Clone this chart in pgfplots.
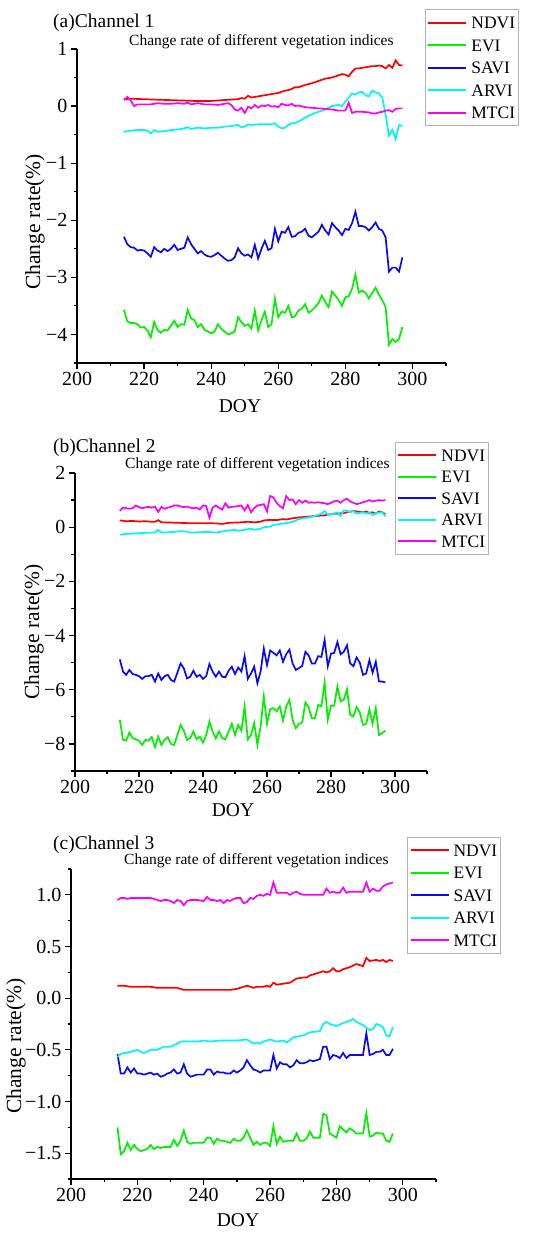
\documentclass[border=0pt]{standalone}
\usepackage{fontspec}
\setmainfont{Liberation Serif}
\usepackage{pgfplots}
\pgfplotsset{compat=1.18}
\definecolor{cred}{RGB}{255,0,0}
\definecolor{cgreen}{RGB}{0,240,0}
\definecolor{cblue}{RGB}{10,10,240}
\definecolor{ccyan}{RGB}{0,245,245}
\definecolor{cmag}{RGB}{250,0,250}
\pgfplotsset{
  panel/.style={
    scale only axis,
    axis x line*=bottom, axis y line*=left,
    axis line style={line width=1.3pt},
    xmin=200, xmax=310,
    xtick={200,220,...,300},
    xticklabels={200,220,240,260,280,300},
    minor xtick={210,230,...,310},
    tick align=outside,
    major tick length=6pt, minor tick length=3.5pt,
    every tick/.style={black, line width=1.2pt},
    tick label style={font=\fontsize{20}{22}\selectfont},
    every axis plot/.append style={line width=1.7pt},
    legend style={draw=gray!60, line width=0.8pt, fill=white,
      font=\fontsize{17.5}{19}\selectfont, anchor=north west,
      cells={anchor=west}, inner xsep=2pt, inner ysep=4pt,
      row sep=4.5pt, column sep=3pt,
      nodes={inner xsep=1pt, inner ysep=3pt, text height=12pt, text depth=0pt}},
    legend image code/.code={\draw[#1, line width=2pt] (0pt,0pt) -- (38pt,0pt);},
  }
}
\begin{document}
\begin{tikzpicture}[x=1pt,y=1pt]
\useasboundingbox (0,0) rectangle (550,1233);
% ---------------- panel a ----------------
\begin{axis}[panel, at={(77pt,870pt)}, anchor=south west, width=369pt, height=314pt,
  ymin=-4.5, ymax=1,
  ytick={-4,-3,-2,-1,0,1}, yticklabels={−4,−3,−2,−1,0,1},
  minor ytick={-4.5,-3.5,-2.5,-1.5,-0.5,0.5},
  legend style={at={(axis description cs:0.943,1.127)}}]
\addplot[cred] coordinates {(214,0.12)(216,0.13)(220,0.12)(225,0.11)(230,0.1)(235,0.09)(240,0.09)(245,0.11)(248,0.12)(249,0.14)(250,0.13)(251,0.18)(252,0.15)(254,0.17)(256,0.19)(258,0.21)(260,0.23)(262,0.27)(263,0.28)(264,0.3)(265,0.33)(266,0.33)(268,0.37)(270,0.4)(272,0.44)(274,0.48)(276,0.5)(278,0.54)(279,0.56)(280,0.55)(281,0.52)(282,0.6)(283,0.66)(284,0.66)(285,0.67)(287,0.69)(288,0.7)(289,0.7)(290,0.71)(291,0.7)(292,0.66)(293,0.72)(294,0.67)(295,0.8)(296,0.72)(297,0.71)};
\addlegendentry{NDVI}
\addplot[cgreen] coordinates {(214,-3.57)(215,-3.77)(216,-3.8)(217,-3.8)(218,-3.82)(219,-3.88)(220,-3.87)(221,-3.93)(222,-4.05)(223,-3.78)(224,-3.92)(225,-3.97)(226,-3.92)(227,-3.93)(228,-3.85)(229,-3.76)(230,-3.87)(231,-3.82)(232,-3.83)(233,-3.57)(234,-3.72)(235,-3.75)(236,-3.87)(237,-3.82)(238,-3.92)(239,-3.95)(240,-3.98)(241,-3.95)(242,-3.82)(243,-3.9)(244,-3.95)(245,-4.0)(246,-3.98)(247,-3.95)(248,-3.7)(249,-3.78)(250,-3.85)(251,-3.82)(252,-3.9)(253,-3.58)(254,-3.93)(255,-3.75)(256,-3.6)(257,-3.87)(258,-3.82)(259,-3.37)(260,-3.7)(261,-3.6)(262,-3.62)(263,-3.5)(264,-3.7)(265,-3.68)(266,-3.58)(267,-3.55)(268,-3.47)(269,-3.62)(270,-3.58)(271,-3.52)(272,-3.45)(273,-3.32)(274,-3.43)(275,-3.52)(276,-3.25)(277,-3.32)(278,-3.4)(279,-3.5)(280,-3.35)(281,-3.33)(282,-3.2)(283,-2.95)(284,-3.27)(285,-3.23)(286,-3.27)(287,-3.37)(288,-3.27)(289,-3.18)(290,-3.3)(291,-3.4)(292,-3.52)(293,-4.18)(294,-4.08)(295,-4.13)(296,-4.08)(297,-3.87)};
\addlegendentry{EVI}
\addplot[cblue] coordinates {(214,-2.29)(215,-2.42)(216,-2.47)(217,-2.48)(218,-2.53)(219,-2.52)(220,-2.53)(221,-2.58)(222,-2.64)(223,-2.47)(224,-2.53)(225,-2.56)(226,-2.5)(227,-2.54)(228,-2.5)(229,-2.43)(230,-2.52)(231,-2.5)(232,-2.48)(233,-2.3)(234,-2.42)(235,-2.5)(236,-2.58)(237,-2.54)(238,-2.6)(239,-2.63)(240,-2.64)(241,-2.61)(242,-2.57)(243,-2.62)(244,-2.67)(245,-2.71)(246,-2.7)(247,-2.65)(248,-2.49)(249,-2.58)(250,-2.62)(251,-2.6)(252,-2.65)(253,-2.43)(254,-2.67)(255,-2.5)(256,-2.36)(257,-2.52)(258,-2.49)(259,-2.15)(260,-2.37)(261,-2.2)(262,-2.22)(263,-2.12)(264,-2.29)(265,-2.28)(266,-2.22)(267,-2.2)(268,-2.15)(269,-2.27)(270,-2.3)(271,-2.25)(272,-2.2)(273,-2.08)(274,-2.18)(275,-2.25)(276,-2.05)(277,-2.12)(278,-2.18)(279,-2.26)(280,-2.15)(281,-2.17)(282,-2.05)(283,-1.85)(284,-2.1)(285,-2.1)(286,-2.12)(287,-2.18)(288,-2.12)(289,-2.04)(290,-2.15)(291,-2.18)(292,-2.3)(293,-2.9)(294,-2.83)(295,-2.83)(296,-2.9)(297,-2.65)};
\addlegendentry{SAVI}
\addplot[ccyan] coordinates {(214,-0.45)(216,-0.43)(218,-0.42)(220,-0.42)(221,-0.43)(222,-0.48)(223,-0.42)(224,-0.45)(226,-0.44)(228,-0.42)(230,-0.41)(232,-0.39)(233,-0.37)(234,-0.4)(236,-0.38)(238,-0.39)(240,-0.38)(242,-0.38)(244,-0.36)(246,-0.35)(248,-0.33)(249,-0.37)(250,-0.36)(251,-0.32)(252,-0.33)(254,-0.32)(256,-0.32)(258,-0.32)(259,-0.3)(260,-0.36)(261,-0.39)(262,-0.38)(263,-0.33)(264,-0.3)(265,-0.3)(266,-0.27)(267,-0.24)(268,-0.2)(270,-0.15)(271,-0.12)(272,-0.1)(274,-0.06)(275,-0.03)(276,0.0)(277,0.01)(278,0.02)(279,0.0)(280,0.08)(281,0.15)(282,0.22)(283,0.2)(284,0.24)(285,0.25)(286,0.19)(287,0.17)(288,0.27)(289,0.24)(290,0.22)(291,0.15)(292,-0.15)(293,-0.52)(294,-0.42)(295,-0.58)(296,-0.33)(297,-0.35)};
\addlegendentry{ARVI}
\addplot[cmag] coordinates {(214,0.1)(215,0.16)(216,0.1)(217,0.0)(218,0.03)(220,0.03)(222,0.03)(224,0.05)(226,0.04)(228,0.04)(230,0.05)(232,0.04)(233,0.06)(234,0.03)(236,0.05)(238,0.03)(240,0.03)(242,0.02)(244,0.04)(245,0.05)(246,0.02)(247,-0.06)(248,-0.08)(249,-0.03)(250,-0.12)(251,-0.01)(252,-0.04)(253,0.02)(254,-0.03)(255,0.01)(256,0.0)(257,0.02)(258,-0.01)(259,0.0)(260,-0.02)(261,0.04)(262,0.02)(263,0.01)(264,0.04)(265,0.0)(266,0.01)(268,-0.02)(270,-0.03)(272,-0.04)(274,-0.05)(276,-0.06)(278,-0.08)(280,-0.08)(281,0.06)(282,-0.12)(283,-0.1)(285,-0.1)(287,-0.11)(288,-0.13)(289,-0.13)(290,-0.11)(291,-0.1)(292,-0.08)(293,-0.07)(294,-0.1)(295,-0.05)(296,-0.04)(297,-0.04)};
\addlegendentry{MTCI}
\end{axis}
\node[anchor=base west, font=\fontsize{19.5}{22}\selectfont, inner sep=0pt] at (53,1205) {(a)Channel 1};
\node[anchor=base west, font=\fontsize{15.5}{18}\selectfont, inner sep=0pt] at (129,1187) {Change rate of different vegetation indices};
\node[rotate=90, font=\fontsize{21.5}{24}\selectfont, inner sep=0pt] at (35,1011) {Change rate(\%)};
\node[anchor=base, font=\fontsize{19.5}{22}\selectfont, inner sep=0pt] at (240,820) {DOY};
% ---------------- panel b ----------------
\begin{axis}[panel, at={(75pt,462pt)}, anchor=south west, width=352pt, height=298pt,
  ymin=-9, ymax=2,
  ytick={-8,-6,-4,-2,0,2}, yticklabels={−8,−6,−4,−2,0,2},
  minor ytick={-9,-7,-5,-3,-1,1},
  legend style={at={(axis description cs:0.909,1.104)}, row sep=3.5pt}]
\addplot[cred] coordinates {(214,0.25)(216,0.22)(218,0.23)(220,0.21)(222,0.22)(224,0.2)(225,0.2)(226,0.26)(227,0.18)(230,0.17)(235,0.15)(240,0.15)(244,0.14)(246,0.12)(248,0.16)(250,0.17)(252,0.18)(254,0.2)(256,0.18)(258,0.2)(259,0.25)(261,0.27)(263,0.26)(265,0.3)(266,0.28)(268,0.33)(270,0.36)(272,0.38)(274,0.4)(276,0.42)(278,0.44)(280,0.48)(282,0.5)(284,0.52)(285,0.55)(287,0.6)(288,0.58)(290,0.55)(291,0.58)(292,0.52)(293,0.55)(294,0.5)(295,0.58)(296,0.55)(297,0.48)};
\addlegendentry{NDVI}
\addplot[cgreen] coordinates {(214,-7.11)(215,-7.85)(216,-7.88)(217,-7.58)(218,-7.79)(219,-7.83)(220,-7.88)(221,-8.04)(222,-7.85)(223,-7.88)(224,-7.75)(225,-8.12)(226,-7.73)(227,-8.04)(228,-7.85)(229,-7.75)(230,-8.0)(231,-8.04)(232,-7.67)(233,-7.3)(234,-7.51)(235,-7.85)(236,-7.79)(237,-7.54)(238,-7.83)(239,-7.73)(240,-7.95)(241,-7.67)(242,-7.17)(243,-7.54)(244,-7.79)(245,-7.54)(246,-7.79)(247,-7.83)(248,-7.54)(249,-7.26)(250,-7.67)(251,-7.3)(252,-7.51)(253,-6.62)(254,-7.83)(255,-7.67)(256,-7.23)(257,-8.04)(258,-7.36)(259,-6.25)(260,-7.26)(261,-6.72)(262,-6.68)(263,-6.8)(264,-6.62)(265,-7.14)(266,-6.62)(267,-6.37)(268,-7.11)(269,-7.42)(270,-7.26)(271,-7.21)(272,-6.47)(273,-6.64)(274,-7.05)(275,-7.05)(276,-6.56)(277,-6.62)(278,-5.73)(279,-7.11)(280,-6.59)(281,-6.59)(282,-5.88)(283,-6.43)(284,-6.37)(285,-5.98)(286,-6.93)(287,-6.99)(288,-6.64)(289,-6.84)(290,-7.3)(291,-7.26)(292,-6.72)(293,-7.26)(294,-6.68)(295,-7.67)(296,-7.6)(297,-7.51)};
\addlegendentry{EVI}
\addplot[cblue] coordinates {(214,-4.88)(215,-5.33)(216,-5.45)(217,-5.27)(218,-5.42)(219,-5.45)(220,-5.5)(221,-5.6)(222,-5.5)(223,-5.5)(224,-5.45)(225,-5.7)(226,-5.4)(227,-5.64)(228,-5.5)(229,-5.45)(230,-5.64)(231,-5.7)(232,-5.37)(233,-5.03)(234,-5.21)(235,-5.58)(236,-5.52)(237,-5.3)(238,-5.52)(239,-5.45)(240,-5.6)(241,-5.5)(242,-5.05)(243,-5.33)(244,-5.52)(245,-5.33)(246,-5.52)(247,-5.54)(248,-5.3)(249,-5.15)(250,-5.42)(251,-5.18)(252,-5.33)(253,-4.76)(254,-5.6)(255,-5.4)(256,-5.15)(257,-5.76)(258,-5.33)(259,-4.48)(260,-5.09)(261,-4.55)(262,-4.64)(263,-4.73)(264,-4.55)(265,-4.97)(266,-4.69)(267,-4.52)(268,-5.03)(269,-5.27)(270,-5.2)(271,-5.12)(272,-4.6)(273,-4.73)(274,-5.03)(275,-5.03)(276,-4.76)(277,-4.79)(278,-4.16)(279,-5.13)(280,-4.67)(281,-4.64)(282,-4.24)(283,-4.69)(284,-4.6)(285,-4.36)(286,-5.03)(287,-5.13)(288,-4.81)(289,-5.0)(290,-5.45)(291,-5.4)(292,-4.91)(293,-5.37)(294,-4.97)(295,-5.7)(296,-5.7)(297,-5.73)};
\addlegendentry{SAVI}
\addplot[ccyan] coordinates {(214,-0.28)(216,-0.25)(218,-0.24)(220,-0.22)(222,-0.21)(224,-0.2)(225,-0.2)(226,-0.1)(227,-0.2)(229,-0.19)(231,-0.17)(233,-0.15)(235,-0.16)(236,-0.2)(238,-0.19)(240,-0.18)(242,-0.18)(244,-0.2)(246,-0.16)(248,-0.12)(250,-0.1)(251,-0.13)(253,-0.1)(255,-0.05)(256,-0.1)(258,-0.06)(259,0.0)(261,0.02)(262,0.08)(264,0.12)(266,0.15)(268,0.2)(270,0.3)(272,0.34)(274,0.38)(276,0.45)(277,0.5)(278,0.6)(279,0.45)(281,0.5)(282,0.55)(283,0.42)(284,0.62)(285,0.6)(286,0.55)(287,0.6)(288,0.5)(290,0.55)(291,0.5)(292,0.55)(293,0.45)(294,0.52)(296,0.55)(297,0.4)};
\addlegendentry{ARVI}
\addplot[cmag] coordinates {(214,0.6)(215,0.72)(216,0.7)(217,0.68)(218,0.7)(219,0.8)(220,0.74)(221,0.7)(222,0.73)(223,0.75)(224,0.72)(225,0.76)(226,0.56)(227,0.75)(228,0.68)(229,0.72)(230,0.75)(231,0.8)(232,0.8)(233,0.76)(234,0.74)(235,0.76)(236,0.72)(237,0.7)(238,0.72)(239,0.65)(240,0.8)(241,0.78)(242,0.35)(243,0.72)(244,0.8)(245,0.72)(246,0.65)(247,0.88)(248,0.72)(249,0.75)(250,0.76)(251,0.78)(252,0.8)(253,0.62)(254,0.82)(255,0.55)(256,0.7)(257,0.8)(258,0.82)(259,0.85)(260,0.58)(261,1.15)(262,1.1)(263,0.9)(264,0.78)(265,0.7)(266,1.15)(267,1.0)(268,1.02)(269,0.85)(270,1.0)(271,0.9)(272,0.98)(273,0.9)(274,0.92)(275,0.9)(276,0.92)(277,0.9)(278,0.88)(279,0.85)(280,0.9)(281,0.95)(282,0.98)(283,0.9)(284,1.0)(285,1.05)(286,0.95)(287,0.9)(288,0.85)(289,0.88)(290,0.92)(291,0.95)(292,1.0)(293,0.95)(294,0.98)(295,1.0)(296,0.98)(297,1.0)};
\addlegendentry{MTCI}
\end{axis}
\node[anchor=base west, font=\fontsize{19.5}{22}\selectfont, inner sep=0pt] at (53,780) {(b)Channel 2};
\node[anchor=base west, font=\fontsize{15.5}{18}\selectfont, inner sep=0pt] at (125,764) {Change rate of different vegetation indices};
\node[rotate=90, font=\fontsize{21.5}{24}\selectfont, inner sep=0pt] at (34,601) {Change rate(\%)};
\node[anchor=base, font=\fontsize{19.5}{22}\selectfont, inner sep=0pt] at (233,416) {DOY};
% ---------------- panel c ----------------
\begin{axis}[panel, at={(71pt,54pt)}, anchor=south west, width=365pt, height=310pt,
  ymin=-1.75, ymax=1.25,
  ytick={-1.5,-1,-0.5,0,0.5,1}, yticklabels={−1.5,−1.0,−0.5,0.0,0.5,1.0},
  minor ytick={-1.75,-1.25,-0.75,-0.25,0.25,0.75,1.25},
  legend style={at={(axis description cs:0.921,1.103)}}]
\addplot[cred] coordinates {(214,0.12)(216,0.12)(218,0.11)(220,0.11)(222,0.11)(224,0.11)(226,0.1)(228,0.1)(230,0.1)(232,0.1)(234,0.08)(236,0.08)(238,0.08)(240,0.08)(242,0.08)(244,0.08)(246,0.08)(248,0.08)(250,0.09)(252,0.11)(253,0.12)(254,0.11)(255,0.1)(256,0.11)(258,0.11)(259,0.12)(260,0.11)(261,0.15)(262,0.13)(264,0.14)(266,0.15)(268,0.19)(270,0.2)(271,0.2)(272,0.22)(274,0.24)(276,0.26)(277,0.25)(278,0.26)(279,0.29)(280,0.26)(281,0.26)(282,0.28)(284,0.3)(286,0.33)(287,0.32)(288,0.31)(289,0.39)(290,0.36)(292,0.37)(293,0.36)(294,0.37)(295,0.35)(296,0.37)(297,0.36)};
\addlegendentry{NDVI}
\addplot[cgreen] coordinates {(214,-1.25)(215,-1.51)(216,-1.48)(217,-1.4)(218,-1.47)(219,-1.42)(220,-1.46)(221,-1.48)(222,-1.47)(223,-1.46)(224,-1.42)(225,-1.46)(226,-1.44)(227,-1.45)(228,-1.44)(229,-1.44)(230,-1.44)(231,-1.37)(232,-1.43)(233,-1.38)(234,-1.28)(235,-1.39)(236,-1.41)(237,-1.4)(238,-1.4)(239,-1.4)(240,-1.4)(241,-1.35)(242,-1.35)(243,-1.41)(244,-1.36)(245,-1.38)(246,-1.38)(247,-1.39)(248,-1.4)(249,-1.36)(250,-1.38)(251,-1.38)(252,-1.35)(253,-1.28)(254,-1.35)(255,-1.42)(256,-1.39)(257,-1.42)(258,-1.4)(259,-1.4)(260,-1.43)(261,-1.24)(262,-1.41)(263,-1.34)(264,-1.39)(265,-1.38)(266,-1.38)(267,-1.38)(268,-1.31)(269,-1.38)(270,-1.38)(271,-1.36)(272,-1.29)(273,-1.35)(274,-1.35)(275,-1.35)(276,-1.12)(277,-1.13)(278,-1.31)(279,-1.33)(280,-1.35)(281,-1.24)(282,-1.27)(283,-1.3)(284,-1.26)(285,-1.28)(286,-1.31)(287,-1.31)(288,-1.31)(289,-1.11)(290,-1.34)(291,-1.33)(292,-1.3)(293,-1.31)(294,-1.31)(295,-1.38)(296,-1.39)(297,-1.31)};
\addlegendentry{EVI}
\addplot[cblue] coordinates {(214,-0.54)(215,-0.73)(216,-0.73)(217,-0.67)(218,-0.72)(219,-0.68)(220,-0.73)(221,-0.73)(222,-0.74)(223,-0.73)(224,-0.72)(225,-0.74)(226,-0.73)(227,-0.76)(228,-0.75)(229,-0.73)(230,-0.72)(231,-0.69)(232,-0.73)(233,-0.72)(234,-0.64)(235,-0.73)(236,-0.76)(237,-0.75)(238,-0.74)(239,-0.74)(240,-0.74)(241,-0.69)(242,-0.69)(243,-0.74)(244,-0.71)(245,-0.72)(246,-0.72)(247,-0.73)(248,-0.73)(249,-0.7)(250,-0.72)(251,-0.7)(252,-0.67)(253,-0.6)(254,-0.65)(255,-0.69)(256,-0.7)(257,-0.72)(258,-0.7)(259,-0.7)(260,-0.7)(261,-0.55)(262,-0.68)(263,-0.62)(264,-0.64)(265,-0.64)(266,-0.67)(267,-0.65)(268,-0.6)(269,-0.63)(270,-0.63)(271,-0.62)(272,-0.6)(273,-0.61)(274,-0.6)(275,-0.59)(276,-0.47)(277,-0.47)(278,-0.59)(279,-0.55)(280,-0.56)(281,-0.58)(282,-0.53)(283,-0.58)(284,-0.55)(285,-0.55)(286,-0.55)(287,-0.55)(288,-0.55)(289,-0.34)(290,-0.55)(291,-0.54)(292,-0.52)(293,-0.52)(294,-0.5)(295,-0.55)(296,-0.55)(297,-0.49)};
\addlegendentry{SAVI}
\addplot[ccyan] coordinates {(214,-0.57)(215,-0.54)(216,-0.53)(218,-0.52)(220,-0.5)(221,-0.52)(222,-0.53)(224,-0.5)(226,-0.5)(228,-0.47)(230,-0.47)(232,-0.44)(233,-0.42)(235,-0.42)(238,-0.42)(240,-0.41)(242,-0.42)(245,-0.41)(248,-0.41)(250,-0.41)(253,-0.4)(255,-0.44)(256,-0.43)(257,-0.44)(258,-0.42)(260,-0.4)(262,-0.42)(264,-0.41)(265,-0.43)(267,-0.38)(270,-0.36)(272,-0.33)(275,-0.32)(276,-0.25)(277,-0.23)(278,-0.25)(280,-0.27)(282,-0.24)(284,-0.22)(285,-0.2)(286,-0.23)(288,-0.26)(290,-0.31)(291,-0.3)(292,-0.25)(293,-0.26)(294,-0.28)(295,-0.36)(296,-0.37)(297,-0.28)};
\addlegendentry{ARVI}
\addplot[cmag] coordinates {(214,0.95)(215,0.97)(216,0.97)(217,0.96)(218,0.97)(220,0.97)(222,0.97)(224,0.97)(225,0.96)(226,0.95)(227,0.94)(228,0.95)(229,0.95)(230,0.94)(231,0.92)(232,0.95)(233,0.94)(234,0.9)(235,0.94)(236,0.95)(238,0.95)(240,0.94)(241,0.98)(242,0.95)(243,0.95)(244,0.94)(245,0.95)(246,0.92)(247,0.95)(248,0.94)(249,0.96)(250,0.97)(251,0.97)(252,0.92)(253,0.93)(254,0.97)(255,0.96)(256,0.99)(257,1.0)(258,0.99)(259,1.01)(260,1.0)(261,1.12)(262,1.02)(264,1.02)(265,1.02)(266,1.0)(267,1.02)(268,1.03)(269,1.01)(270,1.0)(272,1.0)(274,1.0)(276,1.0)(277,1.06)(278,1.02)(279,1.03)(280,1.02)(281,1.02)(282,1.07)(283,1.02)(284,1.03)(286,1.03)(288,1.03)(289,1.12)(290,1.03)(291,1.06)(292,1.04)(293,1.04)(294,1.08)(295,1.1)(296,1.11)(297,1.12)};
\addlegendentry{MTCI}
\end{axis}
\node[anchor=base west, font=\fontsize{19.5}{22}\selectfont, inner sep=0pt] at (53,383) {(c)Channel 3};
\node[anchor=base west, font=\fontsize{15.5}{18}\selectfont, inner sep=0pt] at (124,368) {Change rate of different vegetation indices};
\node[rotate=90, font=\fontsize{21.5}{24}\selectfont, inner sep=0pt] at (16,187) {Change rate(\%)};
\node[anchor=base, font=\fontsize{19.5}{22}\selectfont, inner sep=0pt] at (238,6) {DOY};
\end{tikzpicture}
\end{document}
